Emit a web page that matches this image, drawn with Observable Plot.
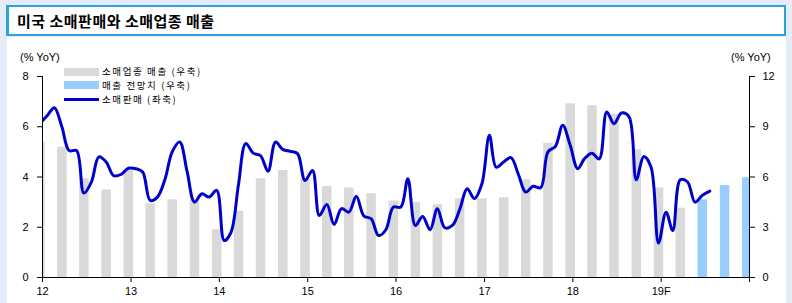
<!DOCTYPE html>
<html><head><meta charset="utf-8">
<script src="https://cdn.jsdelivr.net/npm/d3@7"></script>
<script src="https://cdn.jsdelivr.net/npm/@observablehq/plot@0.6"></script>
<style>
html,body{margin:0;padding:0;}
body{width:792px;height:303px;background:#e6ebfa;position:relative;overflow:hidden;font-family:"Noto Sans CJK KR","Noto Sans",sans-serif;}
#title{position:absolute;left:6px;top:5px;width:775px;height:27px;background:#fff;border:2px solid #2aa5da;border-left-width:3px;}
#title span{position:absolute;left:8px;top:3px;font-size:15px;font-weight:bold;color:#000;line-height:22px;letter-spacing:0.5px;}
#panel{position:absolute;left:7px;top:37px;width:779px;height:266px;background:#fff;}
#chart{position:absolute;left:0;top:37px;}
.unit{position:absolute;top:50px;font-family:"Liberation Sans",Arial,sans-serif;font-size:11px;line-height:14px;color:#000;}
.lg{position:absolute;left:102px;font-size:9.5px;line-height:13px;letter-spacing:1.6px;color:#000;white-space:nowrap;}
.sw{position:absolute;left:64px;width:35px;}
</style></head>
<body>
<div id="title"><span>미국 소매판매와 소매업종 매출</span></div>
<div id="panel"></div>
<div id="chart"></div>
<div class="unit" style="left:20px">(% YoY)</div>
<div class="unit" style="left:731px">(% YoY)</div>
<div class="sw" style="top:68px;height:8px;background:#d9d9d9"></div>
<div class="sw" style="top:81px;height:8px;background:#99ccff"></div>
<div class="sw" style="top:98px;height:3px;background:#0000cd"></div>
<div class="lg" style="top:64.5px">소매업종 매출 (우축)</div>
<div class="lg" style="top:78.5px">매출 전망치 (우축)</div>
<div class="lg" style="top:92.5px">소매판매 (좌축)</div>
<script>
// 소매판매 (좌축), monthly from 2012-01
const retailSales = [
 6.12,6.45,6.76,6.0,5.05,5.05,3.36,3.8,4.8,4.6,4.05,4.1,
 4.35,4.33,4.2,3.07,3.2,3.9,5.0,5.39,4.2,3.0,3.33,3.2,
 3.47,1.47,1.8,3.7,5.33,4.95,4.85,4.23,5.39,5.1,5.02,4.93,
 3.86,4.26,2.47,2.91,2.11,2.74,2.6,3.23,2.45,2.34,1.67,1.9,
 2.8,2.8,3.93,2.07,2.43,1.9,2.74,1.98,2.07,2.7,3.53,3.14,
 3.73,5.66,4.39,4.6,4.77,4.1,3.4,3.63,3.57,5.0,5.22,6.06,
 5.26,4.33,4.73,4.95,4.72,6.59,6.12,6.55,6.4,3.89,4.82,4.4,
 1.37,2.6,1.87,3.89,3.8,3.0,3.27,3.44
];
// 소매업종 매출 (우축), quarterly from 2012-01
const storeSales = [
 8.08,7.78,5.89,5.23,6.39,4.40,4.64,4.64,2.85,3.96,
 5.89,6.39,5.9,5.43,5.35,5.0,4.56,4.48,4.34,4.70,
 4.70,4.76,5.83,8.02,10.37,10.25,9.75,7.63,5.35,4.14
];
// 매출 전망치 (우축), quarterly after the actuals
const forecast = [4.64,5.49,5.95];
const leftTicks = [0,2,4,6,8];
const rightTicks = [0,3,6,9,12];
const yearTicks = [2012,2013,2014,2015,2016,2017,2018,2019,2020];
const yearLabels = ["12","13","14","15","16","17","18","19F",""];

const t0 = new Date(Date.UTC(2012,0,1));
const t1 = new Date(Date.UTC(2020,0,1));
const ratio = leftTicks[leftTicks.length-1] / rightTicks[rightTicks.length-1];
const pos = d => d3.utcDay.offset(d.date, -11);

const lineData = retailSales.map((v,i) => ({date: d3.utcMonth.offset(t0, i), value: v}));
const grayData = storeSales.map((v,i) => ({date: d3.utcMonth.offset(t0, i*3), value: v}));
const blueData = forecast.map((v,i) => ({date: d3.utcMonth.offset(t0, (storeSales.length + i)*3), value: v}));
const yearDates = yearTicks.map(y => new Date(Date.UTC(y,0,1)));
const yearLabelMap = new Map(yearTicks.map((y,i) => [y, yearLabels[i]]));

const chart = Plot.plot({
  width: 792, height: 266,
  marginLeft: 42, marginRight: 43, marginTop: 39, marginBottom: 26,
  x: {type: "utc", domain: [t0, t1]},
  y: {domain: [0, leftTicks[leftTicks.length-1]]},
  style: {fontFamily: "'Liberation Sans', Arial, sans-serif", fontSize: "11px", color: "#000", background: "transparent"},
  marks: [
    Plot.ruleX(grayData, {x: pos, y1: 0, y2: d => d.value * ratio, stroke: "#d9d9d9", strokeWidth: 9.5, clip: true}),
    Plot.ruleX(blueData, {x: pos, y1: 0, y2: d => d.value * ratio, stroke: "#99ccff", strokeWidth: 9.5, clip: true}),
    Plot.line(lineData, {x: pos, y: "value", stroke: "#0000cd", strokeWidth: 3, curve: "catmull-rom", clip: true}),
    Plot.ruleY([0], {stroke: "#000"}),
    Plot.ruleX([t0, t1], {stroke: "#000"}),
    Plot.axisY({anchor: "left", ticks: leftTicks, tickSize: 5, tickPadding: 9, label: null}),
    Plot.axisY({anchor: "right", ticks: rightTicks.map(v => v * ratio), tickFormat: d => String(Math.round(d / ratio)), tickSize: 5, tickPadding: 8, label: null}),
    Plot.axisX({ticks: yearDates, tickFormat: d => yearLabelMap.get(d.getUTCFullYear()), tickSize: 5, tickPadding: 5, label: null})
  ]
});
document.getElementById("chart").appendChild(chart);
</script>
</body></html>
